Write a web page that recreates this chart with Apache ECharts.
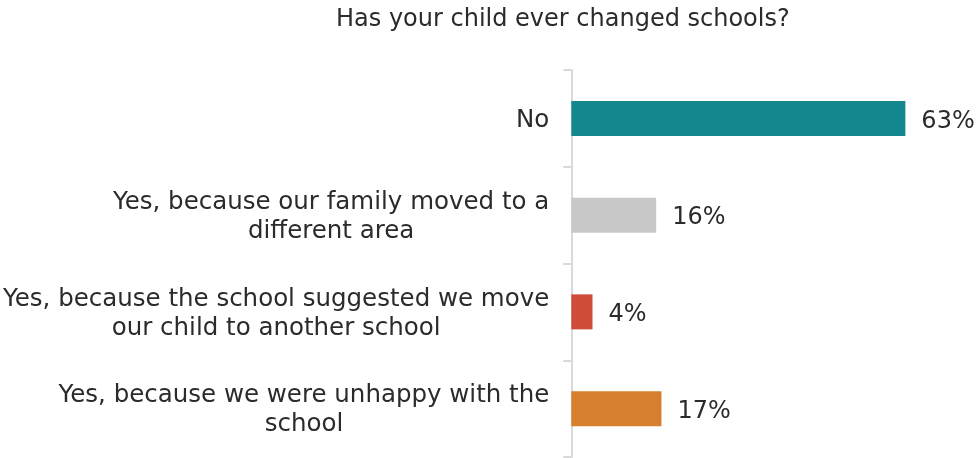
<!DOCTYPE html>
<html>
<head>
<meta charset="utf-8">
<script src="https://cdn.jsdelivr.net/npm/echarts@6/dist/echarts.min.js"></script>
<style>
  html, body { margin: 0; padding: 0; background: #fff; }
  #chart { width: 979px; height: 458px; }
</style>
</head>
<body>
<div id="chart"></div>
<script>
// Survey answers, top to bottom
const categories = [
  'No',
  'Yes, because our family moved to a\ndifferent area',
  'Yes, because the school suggested we move\nour child to another school',
  'Yes, because we were unhappy with the\nschool'
];
// Share of respondents, percent
const values = [63, 16, 4, 17];
const barColors = ['#14868e', '#c8c8c8', '#cf4c3b', '#d67f2e'];
const titleText = 'Has your child ever changed schools?';

const font = '"DejaVu Sans", Verdana, sans-serif';
const textColor = '#2b2b2b';
const chart = echarts.init(document.getElementById('chart'));
chart.setOption({
  animation: false,
  title: {
    text: titleText,
    left: 331,
    top: 3,
    textStyle: { fontFamily: font, fontSize: 24, fontWeight: 'normal', color: textColor }
  },
  grid: { left: 571, top: 70, bottom: 1, right: 10, containLabel: false },
  xAxis: {
    type: 'value',
    min: 0,
    max: 75,
    show: false
  },
  yAxis: {
    type: 'category',
    inverse: true,
    data: categories,
    axisLine: { show: true, lineStyle: { color: '#d9d9d9', width: 2 } },
    axisTick: { show: true, length: 8, lineStyle: { color: '#d9d9d9', width: 2 } },
    axisLabel: {
      margin: 22,
      align: 'right',
      padding: [4, 0, 0, 0],
      // block sits right of the axis gap, each line centred within the block
      formatter: (v) => v.split('\n').map((s) => '{c|' + s + '}').join('\n'),
      rich: {
        c: {
          align: 'center',
          fontFamily: font,
          fontSize: 24.5,
          lineHeight: 29,
          color: textColor
        }
      }
    },
    splitLine: { show: false }
  },
  series: [{
    type: 'bar',
    barWidth: 35,
    data: values.map((v, i) => ({ value: v, itemStyle: { color: barColors[i] } })),
    label: {
      show: true,
      position: 'right',
      distance: 16,
      offset: [0, 3],
      formatter: '{c}%',
      fontFamily: font,
      fontSize: 24,
      color: textColor
    }
  }]
});
</script>
</body>
</html>
